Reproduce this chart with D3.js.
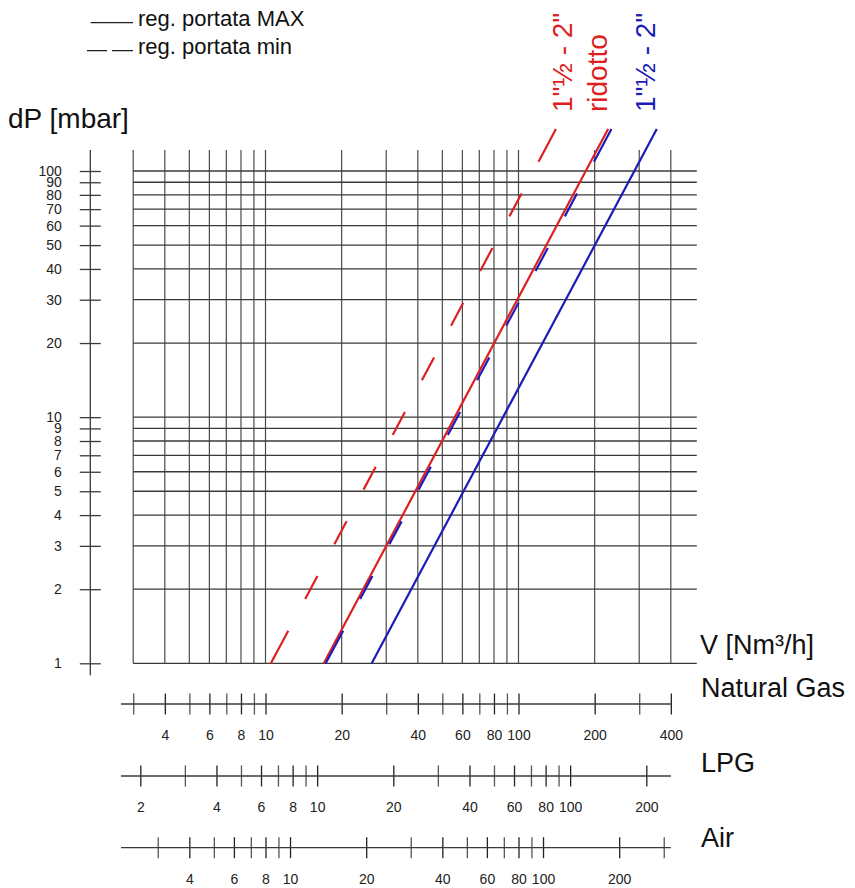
<!DOCTYPE html>
<html>
<head>
<meta charset="utf-8">
<script src="https://cdn.jsdelivr.net/npm/d3@7"></script>
<style>
  body { margin: 0; background: #fff; }
  svg text { font-family: "Liberation Sans", Arial, sans-serif; }
</style>
</head>
<body>
<script>
// Pressure drop chart values, natural gas flow in Nm3/h
const dpTicks = [1, 2, 3, 4, 5, 6, 7, 8, 9, 10, 20, 30, 40, 50, 60, 70, 80, 90, 100];
const flowGrid = [3, 4, 5, 6, 7, 8, 9, 10, 20, 30, 40, 50, 60, 70, 80, 90, 100, 200, 300, 400];

const ngTicks = [3, 4, 5, 6, 7, 8, 9, 10, 20, 30, 40, 50, 60, 70, 80, 90, 100, 200, 300, 400];
const ngLabels = [4, 6, 8, 10, 20, 40, 60, 80, 100, 200, 400];
const lpgTicks = [2, 3, 4, 5, 6, 7, 8, 9, 10, 20, 30, 40, 50, 60, 70, 80, 90, 100, 200];
const lpgLabels = [2, 4, 6, 8, 10, 20, 40, 60, 80, 100, 200];
const airTicks = [3, 4, 5, 6, 7, 8, 9, 10, 20, 30, 40, 50, 60, 70, 80, 90, 100, 200, 300];
const airLabels = [4, 6, 8, 10, 20, 40, 60, 80, 100, 200];

// conversion of natural gas flow to LPG / air flow
const lpgFactor = 1.6;
const airFactor = 1.25;

// each curve: flow at dP ends
const curveDp = [1, 148];
const ridottoMax = [17.0, 226];
const ridottoMin = [10.5, 140.6];
const fullMax = [26.3, 352];
const fullMin = [17.3, 233];

const red = '#dd2020';
const blue = '#1c1cb8';
const gridColor = '#3a3a3a';

const width = 855, height = 888;

const svg = d3.select('body').append('svg')
    .attr('width', width)
    .attr('height', height);

const x = d3.scaleLog().domain([10, 100]).range([265.5, 518.5]);
const y = d3.scaleLog().domain([1, 100]).range([663.3, 171]);

const xLpg = x.copy().domain(x.domain().map(d => d / lpgFactor));
const xAir = x.copy().domain(x.domain().map(d => d / airFactor));

// grid
const gridLeft = x(3), gridRight = x(400) + 26;
const gridTop = y(100) - 21, gridBottom = y(1);

svg.append('g').selectAll('line')
    .data(flowGrid)
    .enter().append('line')
    .attr('x1', d => x(d)).attr('x2', d => x(d))
    .attr('y1', gridTop).attr('y2', gridBottom)
    .attr('stroke', '#4a4a4a')
    .attr('stroke-width', 1.2);

svg.append('g').selectAll('line')
    .data(dpTicks)
    .enter().append('line')
    .attr('x1', gridLeft).attr('x2', gridRight)
    .attr('y1', d => y(d)).attr('y2', d => y(d))
    .attr('stroke', gridColor)
    .attr('stroke-width', 1.3);

// left dP axis
const yAxisX = 90.3;
const yAxis = svg.append('g')
    .attr('transform', `translate(${yAxisX},0)`)
    .call(d3.axisLeft(y).tickValues(dpTicks).tickFormat(d3.format('d')).tickSizeOuter(0));
yAxis.select('.domain').remove();
yAxis.append('line')
    .attr('y1', gridTop).attr('y2', gridBottom + 12)
    .attr('stroke', gridColor).attr('stroke-width', 1.3);
yAxis.selectAll('.tick line')
    .attr('x1', -10.5).attr('x2', 10.5)
    .attr('stroke', gridColor).attr('stroke-width', 1.3);
yAxis.selectAll('.tick text')
    .attr('x', -28.5)
    .attr('fill', '#222')
    .style('font-size', '14px');

// bottom flow scales
function flowAxis(scale, ticks, labels, yPos) {
    const g = svg.append('g')
        .attr('transform', `translate(0,${yPos})`)
        .call(d3.axisBottom(scale).tickValues(ticks)
            .tickFormat(d => labels.includes(d) ? d : ''));
    g.select('.domain').remove();
    g.append('line')
        .attr('x1', 121).attr('x2', x(400))
        .attr('stroke', gridColor).attr('stroke-width', 1.3);
    g.selectAll('.tick line')
        .attr('y1', -10.5).attr('y2', 10.5)
        .attr('stroke', d => labels.includes(d) ? '#222' : '#555')
        .attr('stroke-width', 1.3);
    g.selectAll('.tick text')
        .attr('y', 36).attr('dy', 0)
        .attr('fill', '#222')
        .style('font-size', '14px');
}
flowAxis(x, ngTicks, ngLabels, 704);
flowAxis(xLpg, lpgTicks, lpgLabels, 776);
flowAxis(xAir, airTicks, airLabels, 847.7);

// curves
const line = d3.line().x(d => x(d[0])).y(d => y(d[1]));

function dashes(len) {
    const endDash = 37, dash = 26;
    const n = Math.round((len - 2 * endDash - 35.5) / (dash + 35.5));
    const gap = (len - 2 * endDash - n * dash) / (n + 1);
    const arr = [endDash, gap];
    for (let i = 0; i < n; i++) arr.push(dash, gap);
    arr.push(endDash + 5, 100);
    return arr.join(',');
}

function curve(flows, color, dashed) {
    const path = svg.append('path')
        .datum(flows.map((f, i) => [f, curveDp[i]]))
        .attr('d', line)
        .attr('fill', 'none')
        .attr('stroke', color)
        .attr('stroke-width', 2.2);
    if (dashed) path.attr('stroke-dasharray', dashes(path.node().getTotalLength()));
}
curve(ridottoMin, red, true);
curve(fullMax, blue, false);
curve(ridottoMax, red, false);
curve(fullMin, blue, true);

// curve labels
function vLabel(text, color, xPos) {
    svg.append('text')
        .attr('transform', `translate(${xPos},112) rotate(-90)`)
        .attr('fill', color)
        .style('font-size', '28px')
        .text(text);
}
vLabel('1"½ - 2"', red, 571.5);
vLabel('ridotto', red, 606.5);
vLabel('1"½ - 2"', blue, 655);

// axis titles
svg.append('text').attr('x', 8).attr('y', 128)
    .style('font-size', '28px').attr('fill', '#111').text('dP [mbar]');
svg.append('text').attr('x', 700).attr('y', 654)
    .style('font-size', '27px').attr('fill', '#111').text('V [Nm³/h]');

const gases = ['Natural Gas', 'LPG', 'Air'];
const gasY = [697, 772, 847];
svg.append('g').selectAll('text')
    .data(gases)
    .enter().append('text')
    .attr('x', 701)
    .attr('y', (d, i) => gasY[i])
    .style('font-size', '27px')
    .attr('fill', '#111')
    .text(d => d);

// legend
const legend = svg.append('g');
legend.append('line')
    .attr('x1', 90.7).attr('x2', 133).attr('y1', 22.7).attr('y2', 22.7)
    .attr('stroke', '#222').attr('stroke-width', 1.3);
legend.append('line')
    .attr('x1', 87).attr('x2', 133).attr('y1', 50.7).attr('y2', 50.7)
    .attr('stroke', '#222').attr('stroke-width', 1.3)
    .attr('stroke-dasharray', '20,5,21');
legend.append('text').attr('x', 138).attr('y', 26)
    .style('font-size', '22px').attr('fill', '#111').text('reg. portata MAX');
legend.append('text').attr('x', 138).attr('y', 54)
    .style('font-size', '22px').attr('fill', '#111').text('reg. portata min');
</script>
</body>
</html>
